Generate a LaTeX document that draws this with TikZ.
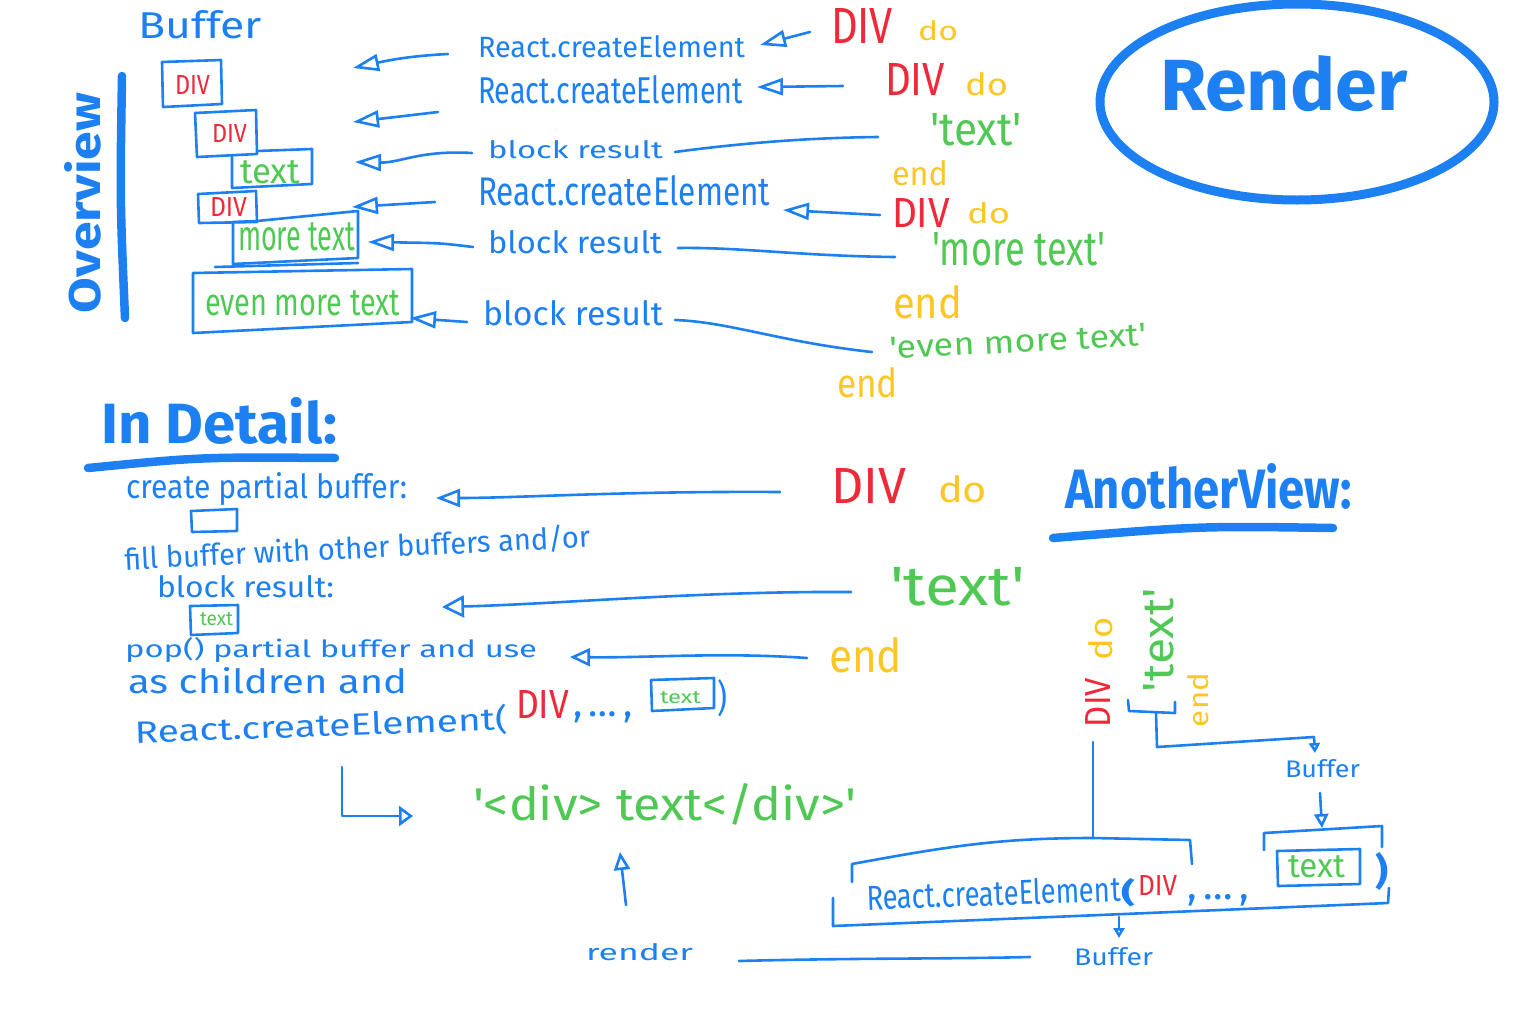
\documentclass[tikz,border=0pt]{standalone}
\usepackage{graphicx}
\usepackage{fontspec}
\setmainfont{Fira Sans}
\usetikzlibrary{arrows.meta}
\definecolor{pb}{RGB}{28,128,242}
\definecolor{pr}{RGB}{238,42,56}
\definecolor{py}{RGB}{252,198,36}
\definecolor{pg}{RGB}{80,200,84}
\newcommand{\hw}[3]{\resizebox{#1pt}{#2pt}{#3}}
\newcommand{\sq}{\textquotesingle}
\tikzset{
  lbl/.style={inner sep=0pt, outer sep=0pt, anchor=base west},
  pen/.style={draw=pb, line width=2.6pt, line cap=round, line join=round},
  heavy/.style={draw=pb, line width=8.5pt, line cap=round, line join=round},
  arrM/.style={pen, -{Triangle[open,length=26pt,width=17pt]}},
  arrL/.style={pen, -{Triangle[open,length=22pt,width=22pt]}},
  arrS/.style={pen, -{Triangle[open,length=10pt,width=11pt]}},
}
\begin{document}
\begin{tikzpicture}[x=1pt,y=-1pt]
\fill[white] (0,0) rectangle (1536,1012);
\useasboundingbox (0,0) rectangle (1536,1012);

% ---------------- Overview ----------------
\node[lbl, text=pb] (buf) at (138,38) {\hw{124}{28}{Buffer}};
\node[lbl, text=pb, rotate=90] (ovw) at (100,313) {\hw{220}{36}{\bfseries Overview}};
\coordinate (ovt) at (122,76); \coordinate (ovb) at (125,318);
\draw[heavy] (ovt) .. controls (120,200) .. (ovb);

% buffer boxes
\draw[pen] (162,62) -- (221,60) -- (222,104) -- (163,107) -- cycle;
\node[lbl, text=pr] (bd1) at (175,94) {\hw{35}{19}{DIV}};
\draw[pen] (195,113) -- (256,110) -- (257,154) -- (197,157) -- cycle;
\node[lbl, text=pr] (bd2) at (212,142) {\hw{35}{18}{DIV}};
\draw[pen] (232,156) -- (232,188) -- (312,184) -- (312,149) -- (257,151);
\node[lbl, text=pg] (bt1) at (240,183) {\hw{60}{23}{text}};
\draw[pen] (198,194) -- (256,191) -- (257,222) -- (199,223) -- cycle;
\node[lbl, text=pr] (bd3) at (210,216) {\hw{37}{19}{DIV}};
\draw[pen] (257,221) -- (358,211) -- (358,258) -- (233,264) -- (233,222) -- (257,221);
\node[lbl, text=pg] (bt2) at (238,250) {\hw{117}{28}{more text}};
\draw[pen] (215,267) -- (358,263);
\draw[pen] (193,273) -- (412,269) -- (412,322) -- (193,333) -- cycle;
\node[lbl, text=pg] (bt3) at (205,315) {\hw{195}{25}{even more text}};

% middle labels
\node[lbl, text=pb] (rc1) at (478,57) {\hw{267}{22}{React.createElement}};
\node[lbl, text=pb] (rc2) at (478,103) {\hw{265}{28}{React.createElement}};
\node[lbl, text=pb] (br1) at (488,158) {\hw{175}{18}{block result}};
\node[lbl, text=pb] (rc3) at (478,205) {\hw{292}{30}{React.createElement}};
\node[lbl, text=pb] (br2) at (488,253) {\hw{174}{23}{block result}};
\node[lbl, text=pb] (br3) at (483,325) {\hw{180}{25}{block result}};

% arrows to buffer
\coordinate (a1s) at (448,54);  \coordinate (a1e) at (353,68);
\coordinate (a2s) at (438,112); \coordinate (a2e) at (353,122);
\coordinate (a3s) at (472,153); \coordinate (a3e) at (355,162);
\coordinate (a4s) at (435,202); \coordinate (a4e) at (352,207);
\coordinate (a5s) at (473,247); \coordinate (a5e) at (368,242);
\coordinate (a6s) at (467,322); \coordinate (a6e) at (410,318);
\draw[arrM] (a1s) .. controls (410,56) and (390,60) .. (a1e);
\draw[arrM] (a2s) -- (a2e);
\draw[arrM] (a3s) .. controls (420,150) and (400,163) .. (a3e);
\draw[arrM] (a4s) -- (a4e);
\draw[arrM] (a5s) .. controls (440,243) .. (a5e);
\draw[arrM] (a6s) -- (a6e);

% right column
\node[lbl, text=pr] (da) at (831,43) {\hw{62}{35}{DIV}};
\node[lbl, text=py] (oa) at (918,40) {\hw{40}{20}{do}};
\node[lbl, text=pr] (db) at (885,95) {\hw{60}{32}{DIV}};
\node[lbl, text=py] (ob) at (965,95) {\hw{43}{23}{do}};
\node[lbl, text=pg] (ta) at (930,145) {\hw{92}{32}{\sq text\sq}};
\node[lbl, text=py] (ea) at (892,185) {\hw{56}{25}{end}};
\node[lbl, text=pr] (dc) at (892,227) {\hw{58}{29}{DIV}};
\node[lbl, text=py] (oc) at (967,223) {\hw{43}{21}{do}};
\node[lbl, text=pg] (tb) at (932,265) {\hw{173}{33}{\sq more text\sq}};
\node[lbl, text=py] (eb) at (893,318) {\hw{69}{33}{end}};
\node[lbl, text=pg, rotate=3] (tc) at (890,359) {\hw{258}{22}{\sq even more text\sq}};
\node[lbl, text=py] (ec) at (837,397) {\hw{61}{30}{end}};

\coordinate (b1s) at (810,32);  \coordinate (b1e) at (760,45);
\coordinate (b2s) at (843,86);  \coordinate (b2e) at (757,87);
\coordinate (b3s) at (878,137); \coordinate (b3e) at (675,152);
\coordinate (b4s) at (880,215); \coordinate (b4e) at (783,210);
\coordinate (b5s) at (895,257); \coordinate (b5e) at (678,248);
\coordinate (b6s) at (872,352); \coordinate (b6e) at (675,320);
\draw[arrM] (b1s) -- (b1e);
\draw[arrM] (b2s) -- (b2e);
\draw[pen] (b3s) .. controls (790,138) and (720,146) .. (b3e);
\draw[arrM] (b4s) -- (b4e);
\draw[pen] (b5s) .. controls (800,256) and (740,247) .. (b5e);
\draw[pen] (b6s) .. controls (780,342) and (730,322) .. (b6e);

% Render
\node[lbl, text=pb] (rnd) at (1160,110) {\hw{247}{55}{\bfseries Render}};
\draw[draw=pb, line width=9pt] (1297,102) ellipse (197 and 98);

% ---------------- In Detail ----------------
\node[lbl, text=pb] (idt) at (101,443) {\hw{236}{46}{\bfseries In Detail:}};
\coordinate (ul1) at (88,468); \coordinate (ul2) at (335,458);
\draw[heavy] (ul1) .. controls (200,457) .. (ul2);
\node[lbl, text=pb] (cpb) at (126,498) {\hw{281}{26}{create partial buffer:}};
\draw[pen] (191,511) -- (237,509) -- (237,531) -- (192,532) -- cycle;
\node[lbl, text=pb, rotate=2.8] (fbw) at (125,570) {\hw{466}{24}{fill buffer with other buffers and/or}};
\node[lbl, text=pb] (bkr) at (157,597) {\hw{177}{22}{block result:}};
\draw[pen] (190,606) -- (238,605) -- (238,633) -- (191,635) -- cycle;
\node[lbl, text=pg] (sbt) at (200,625) {\hw{33}{13}{text}};
\node[lbl, text=pb] (pop) at (125,657) {\hw{412}{20}{pop() partial buffer and use}};
\node[lbl, text=pb] (asc) at (128,693) {\hw{279}{26}{as children and}};
\node[lbl, text=pb, rotate=2] (rce) at (135,743) {\hw{373}{26}{React.createElement(}};
\node[lbl, text=pr] (rdv) at (516,718) {\hw{53}{28}{DIV}};
\node[lbl, text=pb] (rdots) at (573,716) {\resizebox{60pt}{!}{,\,\ldots\,,}};
\draw[pen] (651,680) -- (714,678) -- (714,708) -- (652,711) -- cycle;
\node[lbl, text=pg] (rtx) at (660,703) {\hw{41}{12}{text}};
\node[lbl, text=pb] (rpar) at (717,711) {\resizebox{10pt}{32pt}{)}};

\coordinate (Ls) at (342,767); \coordinate (Lc) at (342,816); \coordinate (Le) at (413,816);
\draw[pen, -{Triangle[open,length=14pt,width=20pt]}] (Ls) -- (Lc) -- (Le);
\node[lbl, text=pg] (html) at (473,820) {\hw{383}{37}{\sq<div> text</div>\sq}};
\coordinate (us) at (626,905); \coordinate (ue) at (620,852);
\draw[pen, -{Triangle[open,length=18pt,width=16pt]}] (us) -- (ue);
\node[lbl, text=pb] (rdr) at (586,960) {\hw{107}{17}{render}};
\coordinate (rls) at (739,961); \coordinate (rle) at (1030,957);
\draw[pen] (rls) .. controls (850,958) and (950,959) .. (rle);

% middle-right
\node[lbl, text=pr] (dd) at (831,503) {\hw{75}{35}{DIV}};
\node[lbl, text=py] (od) at (938,502) {\hw{49}{27}{do}};
\node[lbl, text=pg] (td) at (890,605) {\hw{135}{38}{\sq text\sq}};
\node[lbl, text=py] (ed) at (829,672) {\hw{73}{35}{end}};
\coordinate (c1s) at (780,492); \coordinate (c1e) at (436,498);
\coordinate (c2s) at (851,592); \coordinate (c2e) at (442,607);
\coordinate (c3s) at (807,658); \coordinate (c3e) at (570,657);
\draw[pen, -{Triangle[open,length=24pt,width=18pt]}] (c1s) .. controls (620,491) and (520,498) .. (c1e);
\draw[arrL] (c2s) .. controls (700,591) and (560,604) .. (c2e);
\draw[pen, -{Triangle[open,length=20pt,width=18pt]}] (c3s) .. controls (720,652) and (650,658) .. (c3e);

% ---------------- Another View ----------------
\node[lbl, text=pb] (anv) at (1065,508) {\hw{287}{45}{\bfseries AnotherView:}};
\coordinate (av1) at (1053,538); \coordinate (av2) at (1333,528);
\draw[heavy] (av1) .. controls (1200,526) .. (av2);

\node[lbl, text=pr, rotate=90] (vdiv) at (1110,727) {\hw{49}{25}{DIV}};
\node[lbl, text=py, rotate=90] (vdo) at (1112,660) {\hw{43}{24}{do}};
\node[lbl, text=pg, rotate=90] (vtx) at (1173,692) {\hw{104}{30}{\sq text\sq}};
\node[lbl, text=py, rotate=90] (vend) at (1208,727) {\hw{54}{21}{end}};

\draw[pen] (1128,700) -- (1129,711) -- (1175,713) -- (1175,702);
\coordinate (s1) at (1156,713); \coordinate (s2) at (1157,747);
\coordinate (s3) at (1314,737); \coordinate (s4) at (1315,753);
\draw[arrS] (s1) -- (s2) -- (s3) -- (s4);
\node[lbl, text=pb] (bf2) at (1285,777) {\hw{75}{18}{Buffer}};
\coordinate (t1) at (1320,793); \coordinate (t2) at (1322,828);
\draw[pen, -{Triangle[open,length=14pt,width=14pt]}] (t1) -- (t2);

\coordinate (dv1) at (1093,742); \coordinate (dv2) at (1093,838);
\draw[pen] (dv1) -- (dv2);
\draw[pen] (852,882) -- (852,864) .. controls (950,846) and (1000,838) .. (1093,838) -- (1190,840) -- (1192,864);
\draw[pen] (833,898) -- (833,926) -- (1100,915) -- (1388,903) -- (1389,888);
\draw[pen] (1264,850) -- (1264,833) -- (1382,826) -- (1382,847);
\draw[pen] (1277,851) -- (1360,849) -- (1360,884) -- (1278,886) -- cycle;
\node[lbl, text=pg] (btx) at (1288,877) {\hw{57}{22}{text}};
\node[lbl, text=pb] (bpar) at (1375,884) {\resizebox{13pt}{32pt}{\bfseries )}};
\node[lbl, text=pb, rotate=2] (brc) at (867,910) {\hw{254}{26}{React.createElement}};
\node[lbl, text=pb] (bop) at (1121,902) {\resizebox{14pt}{24pt}{\bfseries (}};
\node[lbl, text=pr] (bdv) at (1138,895) {\hw{39}{20}{DIV}};
\node[lbl, text=pb] (bdots) at (1187,899) {\resizebox{62pt}{!}{,\,\ldots\,,}};
\coordinate (bb1) at (1119,917); \coordinate (bb2) at (1119,938);
\draw[arrS] (bb1) -- (bb2);
\node[lbl, text=pb] (bf3) at (1074,965) {\hw{79}{18}{Buffer}};
\end{tikzpicture}
\end{document}
